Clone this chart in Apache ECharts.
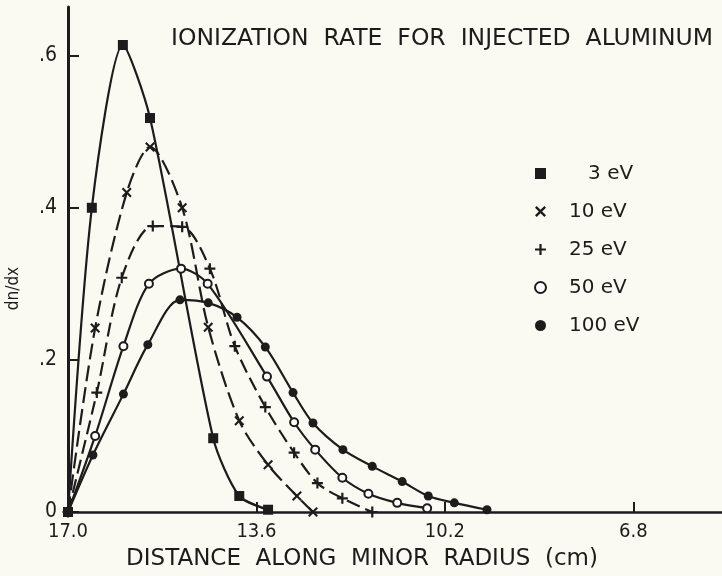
<!DOCTYPE html>
<html>
<head>
<meta charset="utf-8">
<title>Ionization rate for injected aluminum</title>
<script src="https://cdn.jsdelivr.net/npm/echarts@6/dist/echarts.min.js"></script>
<style>
  html, body { margin: 0; padding: 0; background: #fbfaf2; }
  #chart { width: 722px; height: 576px; }
</style>
</head>
<body>
<div id="chart"></div>
<script>
// [distance along minor radius (cm), dn/dx]
const ev3 = [[17.0, 0], [16.57, 0.40], [16.01, 0.614], [15.52, 0.518], [14.38, 0.097], [13.91, 0.021], [13.39, 0.003]]
const ev10 = [[17.0, 0], [16.51, 0.242], [15.94, 0.42], [15.52, 0.48], [14.94, 0.40], [14.47, 0.243],
  [13.91, 0.12], [13.39, 0.062], [12.87, 0.021], [12.58, 0]]
const ev25 = [[17.0, 0], [16.48, 0.157], [16.03, 0.308], [15.47, 0.376], [14.94, 0.375], [14.44, 0.32],
  [13.99, 0.218], [13.44, 0.138], [12.92, 0.078], [12.5, 0.038], [12.05, 0.018], [11.51, 0]]
const ev50 = [[17.0, 0], [16.51, 0.10], [16.0, 0.218], [15.54, 0.30], [14.96, 0.32], [14.48, 0.30],
  [13.41, 0.178], [12.92, 0.118], [12.54, 0.082], [12.05, 0.045], [11.58, 0.024], [11.06, 0.012], [10.52, 0.005]]
const ev100 = [[17.0, 0], [16.55, 0.075], [16.0, 0.155], [15.56, 0.22], [14.98, 0.279], [14.47, 0.275],
  [13.95, 0.256], [13.44, 0.217], [12.94, 0.157], [12.58, 0.117], [12.04, 0.082], [11.51, 0.06],
  [10.97, 0.04], [10.5, 0.021], [10.03, 0.012], [9.44, 0.003]]

const xTicks = [17.0, 13.6, 10.2, 6.8]
const yTicks = [0, 0.2, 0.4, 0.6]

const ink = '#1c1c1c'
const paper = '#fbfaf2'
const font = 'DejaVu Sans Condensed'

// symbols drawn as filled outlines so they keep the pen look
const crossX = 'path://M0,1.5L1.5,0L5,3.5L8.5,0L10,1.5L6.5,5L10,8.5L8.5,10L5,6.5L1.5,10L0,8.5L3.5,5Z'
const plus = 'path://M4,0H6V4H10V6H6V10H4V6H0V4H4Z'

function curve(name, data, symbol, size, dash, smooth) {
  return {
    name: name,
    type: 'line',
    data: data,
    smooth: smooth || 0.3,
    symbol: symbol,
    symbolSize: size,
    showAllSymbol: true,
    lineStyle: { color: ink, width: 2.2, type: dash || 'solid' },
    itemStyle: {
      color: ink,
      borderWidth: symbol === 'emptyCircle' ? 1.8 : 0
    },
    emphasis: { disabled: true },
    z: 3
  }
}

const chart = echarts.init(document.getElementById('chart'))
chart.setOption({
  backgroundColor: paper,
  animation: false,
  title: {
    text: 'IONIZATION  RATE  FOR  INJECTED  ALUMINUM',
    left: 166,
    top: 22,
    textStyle: { fontFamily: 'DejaVu Sans', fontSize: 23.5, fontWeight: 'normal', color: ink }
  },
  legend: {
    orient: 'vertical',
    left: 529,
    top: 158,
    itemWidth: 11,
    itemHeight: 11,
    itemGap: 17,
    selectedMode: false,
    textStyle: { fontFamily: 'DejaVu Sans', fontSize: 20, color: ink, lineHeight: 21, padding: [0, 0, 0, 18] },
    formatter: function (name) { return name === '3 eV' ? '   3 eV' : name },
    data: [
      { name: '3 eV', icon: 'rect' },
      { name: '10 eV', icon: crossX },
      { name: '25 eV', icon: plus },
      { name: '50 eV', icon: 'emptyCircle' },
      { name: '100 eV', icon: 'circle' }
    ]
  },
  grid: { left: 68, right: 0, top: 7, bottom: 64, outerBoundsMode: 'none' },
  xAxis: {
    type: 'value',
    inverse: true,
    min: 5.2,
    max: 17,
    name: 'DISTANCE  ALONG  MINOR  RADIUS  (cm)',
    nameLocation: 'middle',
    nameGap: 36,
    nameTextStyle: { fontFamily: 'DejaVu Sans', fontSize: 23, color: ink, padding: [0, 66, 0, 0] },
    axisLine: { lineStyle: { color: ink, width: 2.5 } },
    axisTick: { inside: true, length: 10, lineStyle: { color: ink, width: 2 }, customValues: xTicks },
    axisLabel: {
      fontFamily: font, fontSize: 20, color: ink, margin: 10,
      customValues: xTicks,
      formatter: function (v) { return v.toFixed(1) }
    },
    splitLine: { show: false }
  },
  yAxis: {
    type: 'value',
    min: 0,
    max: 0.664,
    name: 'dn/dx',
    nameLocation: 'middle',
    nameRotate: 90,
    nameGap: 46,
    nameTextStyle: { fontFamily: font, fontSize: 17, color: ink, padding: [0, 58, 0, 0] },
    axisLine: { lineStyle: { color: ink, width: 3 } },
    axisTick: { inside: true, length: 11, lineStyle: { color: ink, width: 2 }, customValues: yTicks },
    axisLabel: {
      fontFamily: font, fontSize: 21, color: ink, margin: 11,
      customValues: yTicks,
      formatter: function (v) { return v === 0 ? '0' : '.' + Math.round(v * 10) }
    },
    splitLine: { show: false }
  },
  series: [
    curve('3 eV', ev3, 'rect', 10, null, 0.25),
    curve('10 eV', ev10, crossX, 10, [16, 6]),
    curve('25 eV', ev25, plus, 11, [14, 6]),
    curve('50 eV', ev50, 'emptyCircle', 8),
    curve('100 eV', ev100, 'circle', 9)
  ]
})
</script>
</body>
</html>
